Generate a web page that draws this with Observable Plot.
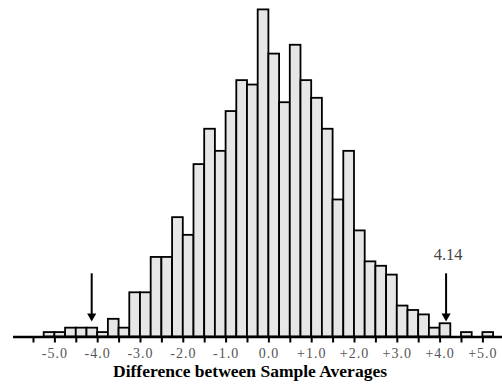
<!DOCTYPE html>
<html>
<head>
<meta charset="utf-8">
<script src="https://cdn.jsdelivr.net/npm/d3@7"></script>
<script src="https://cdn.jsdelivr.net/npm/@observablehq/plot@0.6"></script>
<style>
  html, body { margin: 0; padding: 0; background: #fff; }
  #chart svg { display: block; }
  #chart svg, #chart svg text { font-family: "Liberation Serif", "Times New Roman", "DejaVu Serif", serif !important; }
</style>
</head>
<body>
<div id="chart"></div>
<script>
// Left edges of the histogram bins (bin width 0.25)
const binLeft = [-5.25, -5.0, -4.75, -4.5, -4.25, -4.0, -3.75, -3.5, -3.25, -3.0,
  -2.75, -2.5, -2.25, -2.0, -1.75, -1.5, -1.25, -1.0, -0.75, -0.5, -0.25,
  0.0, 0.25, 0.5, 0.75, 1.0, 1.25, 1.5, 1.75, 2.0, 2.25, 2.5, 2.75, 3.0,
  3.25, 3.5, 3.75, 4.0, 4.25, 4.5, 4.75, 5.0];
const binWidth = 0.25;
// Counts per bin (1000 resamples)
const counts = [1, 1, 2, 2, 2, 1, 4, 2, 10, 10,
  18, 18, 27, 23, 39, 47, 42, 51, 58, 57, 74,
  64, 53, 66, 58, 54, 47, 31, 42, 24, 17, 16, 14, 7,
  6, 5, 2, 3, 0, 1, 0, 1];
// Observed difference and its mirror
const observed = [-4.14, 4.14];
const observedLabel = ["4.14"];
// Tick values and labels
const tickValues = [-5.5, -5.0, -4.5, -4.0, -3.5, -3.0, -2.5, -2.0, -1.5, -1.0, -0.5, 0.0,
  0.5, 1.0, 1.5, 2.0, 2.5, 3.0, 3.5, 4.0, 4.5, 5.0];
const tickLabels = {"-5": "-5.0", "-4": "-4.0", "-3": "-3.0", "-2": "-2.0", "-1": "-1.0",
  "0": "0.0", "1": "+1.0", "2": "+2.0", "3": "+3.0", "4": "+4.0", "5": "+5.0"};
const xLabel = "Difference between Sample Averages";

const bins = binLeft.map((x, i) => ({x1: x, x2: x + binWidth, count: counts[i]}));

const serif = "Liberation Serif";

const chart = Plot.plot({
  width: 502,
  height: 385,
  marginLeft: 13,
  marginRight: 0,
  marginTop: 9.4,
  marginBottom: 48.5,
  style: {background: "#fff"},
  x: {domain: [-5.967, 5.458]},
  y: {domain: [0, 74], axis: null},
  marks: [
    Plot.rectY(bins.filter(d => d.count > 0), {
      x1: "x1", x2: "x2", y: "count",
      fill: "#e6e6e6", stroke: "#000", strokeWidth: 1.8
    }),
    Plot.ruleY([0], {stroke: "#000", strokeWidth: 2.5}),
    Plot.axisX({
      ticks: tickValues,
      tickSize: 6,
      tickPadding: 5.5,
      strokeWidth: 2,
      stroke: "#000",
      tickFormat: d => tickLabels[String(d)] ?? "",
      fontSize: 14,
      fontFamily: serif,
      fill: "#555",
      label: null
    }),
    Plot.ruleX(observed, {x: d => d, y1: 4.7, y2: 14.3, stroke: "#000", strokeWidth: 2}),
    Plot.dot(observed, {x: d => d, y: 4.7, symbol: "triangle", rotate: 180, r: 3.4, fill: "#000", stroke: "none"}),
    Plot.text(observedLabel, {x: d => +d, y: 18.7, dx: 2, text: d => d, fontSize: 16.5, fontFamily: serif, fill: "#444", ariaLabel: "observed-label"}),
    Plot.text([xLabel], {frameAnchor: "bottom", dy: 39.9, dx: -8, text: d => d, fontSize: 17.5, fontFamily: serif, fontWeight: "bold", fill: "#000", ariaLabel: "x-title"})
  ]
});
d3.select(chart).selectAll("g[aria-label='x-axis tick label'] text").style("letter-spacing", "1px");
d3.select(chart).selectAll("g[aria-label='observed-label'] text").style("letter-spacing", "2px");
document.getElementById("chart").appendChild(chart);
</script>
</body>
</html>
